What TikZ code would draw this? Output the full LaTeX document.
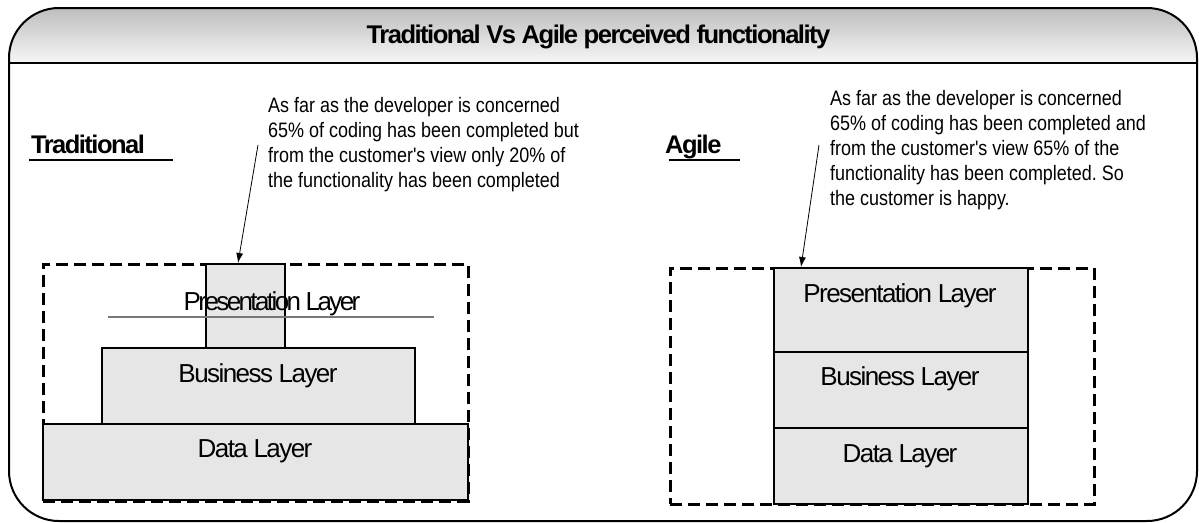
\documentclass[tikz,border=0pt]{standalone}
\usepackage{fontspec}
\setmainfont{Liberation Sans}
\newfontfamily\lab[LetterSpace=-6]{Liberation Sans}
\newfontfamily\labn[LetterSpace=-10]{Liberation Sans}
\newfontfamily\notef[FakeStretch=0.86]{Liberation Sans}
\usetikzlibrary{arrows.meta}
\definecolor{layergray}{RGB}{230,230,230}
\definecolor{hdtop}{RGB}{190,190,190}
\definecolor{hdbot}{RGB}{246,246,246}
\definecolor{thinline}{RGB}{120,120,120}
\frenchspacing
\tikzset{
  layerbox/.style={draw=black, line width=1.5pt, fill=layergray, inner sep=0pt, anchor=north west},
  dashbox/.style={draw=black, line width=2.5pt, dash pattern=on 12pt off 6pt, inner sep=0pt, anchor=north west},
  laytext/.style={anchor=base, inner sep=0pt, font=\lab\fontsize{26}{30}\selectfont},
  headtext/.style={anchor=base west, inner sep=0pt, font=\lab\bfseries\fontsize{25.5}{30}\selectfont},
  notetext/.style={anchor=north west, inner sep=0pt, align=left, font=\notef\frenchspacing\fontsize{20.9}{25}\selectfont},
  pointer/.style={line width=0.8pt, -{Latex[length=10pt,width=7pt]}},
  underl/.style={line width=1.2pt}
}
\begin{document}
\begin{tikzpicture}[x=1pt,y=-1pt]
\useasboundingbox (0,0) rectangle (1199,522);
% header band
\begin{scope}
  \clip[rounded corners=50pt] (9,8) rectangle (1197,521);
  \shade[top color=hdtop, bottom color=hdbot] (9,8) rectangle (1197,63);
\end{scope}
\draw[line width=2pt, rounded corners=50pt] (9,8) rectangle (1197,521);
\draw[line width=2pt] (9,63) -- (1197,63);
\node[anchor=base, inner sep=0pt, font=\lab\bfseries\fontsize{25.6}{30}\selectfont] (title) at (598.5,43.3) {Traditional Vs Agile perceived functionality};

% ---------- Traditional ----------
\node[headtext] (trad) at (31,153) {Traditional};
\coordinate (tradu1) at (29,160);
\coordinate (tradu2) at (173,160);
\draw[underl] (tradu1) -- (tradu2);

\node[notetext] (tnote) at (268,97.4) {As far as the developer is concerned\\65\% of coding has been completed but\\from the customer's view only 20\% of\\the functionality has been completed};

\node[dashbox, minimum width=425pt, minimum height=237pt] (tdash) at (42,263) {};
\node[layerbox, minimum width=425pt, minimum height=76pt] (tdata) at (42,423) {};
\node[layerbox, minimum width=313pt, minimum height=76pt] (tbus) at (101,347) {};
\node[layerbox, minimum width=79pt, minimum height=84pt] (tpres) at (205,263) {};

\coordinate (tl1) at (108,317);
\coordinate (tl2) at (434,317);
\draw[thinline, line width=1.2pt] (tl1) -- (tl2);
\node[anchor=base, inner sep=0pt, font=\labn\fontsize{26}{30}\selectfont] (tpresl) at (272,310) {Presentation Layer};
\node[laytext] (tbusl) at (258,382) {Business Layer};
\node[laytext] (tdatal) at (255,457) {Data Layer};

\coordinate (ta0) at (258,145);
\coordinate (ta1) at (238,263);
\draw[pointer] (ta0) -- (ta1);

% ---------- Agile ----------
\node[headtext] (agile) at (665,153) {Agile};
\coordinate (agu1) at (669,160);
\coordinate (agu2) at (740,160);
\draw[underl] (agu1) -- (agu2);

\node[notetext] (anote) at (830,89.7) {As far as the developer is concerned\\65\% of coding has been completed and\\from the customer's view 65\% of the\\functionality has been completed. So\\the customer is happy.};

\node[dashbox, minimum width=424pt, minimum height=236pt] (adash) at (669,267) {};
\node[layerbox, minimum width=254pt, minimum height=84pt] (apres) at (773,267) {};
\node[layerbox, minimum width=254pt, minimum height=76pt] (abus) at (773,351) {};
\node[layerbox, minimum width=254pt, minimum height=76pt] (adata) at (773,427) {};

\node[laytext] (apresl) at (900,302) {Presentation Layer};
\node[laytext] (abusl) at (900,385) {Business Layer};
\node[laytext] (adatal) at (900,462) {Data Layer};

\coordinate (aa0) at (819,145);
\coordinate (aa1) at (801,267);
\draw[pointer] (aa0) -- (aa1);
\end{tikzpicture}
\end{document}
